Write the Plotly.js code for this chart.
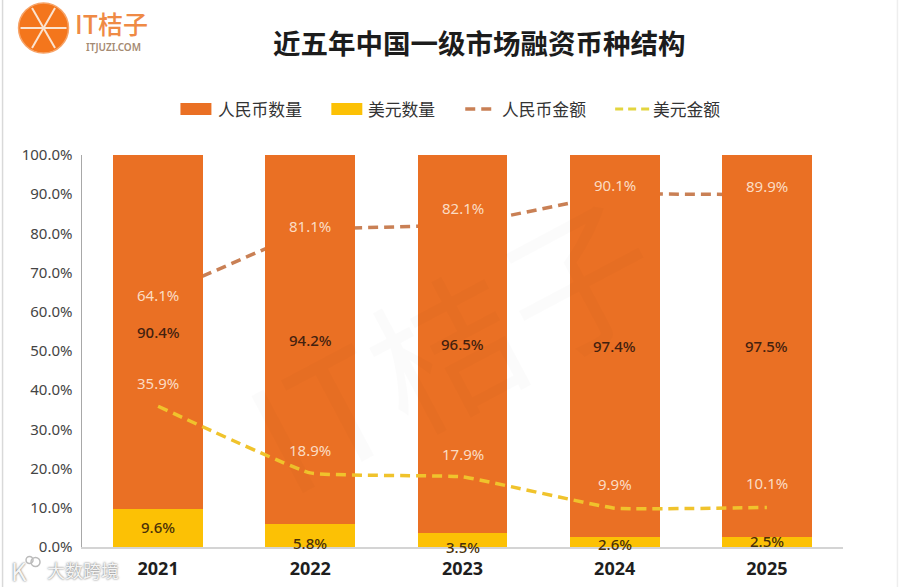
<!DOCTYPE html>
<html>
<head>
<meta charset="utf-8">
<script src="https://cdn.plot.ly/plotly-3.0.1.min.js"></script>
<style>
  html, body { margin: 0; padding: 0; background: #fff; }
</style>
</head>
<body>
<div id="chart" style="width:900px;height:587px"></div>
<script>
// Values
const years = ['2021', '2022', '2023', '2024', '2025'];
const rmbCount = [90.4, 94.2, 96.5, 97.4, 97.5];
const usdCount = [9.6, 5.8, 3.5, 2.6, 2.5];
const rmbAmount = [64.1, 81.1, 82.1, 90.1, 89.9];
const usdAmount = [35.9, 18.9, 17.9, 9.9, 10.1];
const yTicks = [0, 10, 20, 30, 40, 50, 60, 70, 80, 90, 100];

const seriesNames = ['人民币数量', '美元数量', '人民币金额', '美元金额'];
const titleText = '近五年中国一级市场融资币种结构';

// Label offsets in px from their anchor
const rmbAmountShift = [1, 3, 17, 9, 9];
const usdAmountShift = [23, 23, 23, 24, 24];
const usdCountShift = [1, -7, -7, -2, 1];

const ORANGE = '#ea7024', GOLD = '#fcc105', LINE_ORANGE = '#c98055', LINE_GOLD = '#f0c32c';
const FONT = '"Noto Sans CJK SC", "Noto Sans", sans-serif';
const LABEL_FONT = '"Noto Sans", "Open Sans", sans-serif';

// plot area in pixels
const L = 81.5, R = 843, T = 155, B = 547;
const px = x => (x - L) / (R - L);
const py = y => (B - y) / (B - T);

function pct(v) { return v.toFixed(1) + '%'; }

// rmbAmount sits under the bars, so it goes on the base axis; bars are on the overlay
const traces = [
  { type: 'scatter', mode: 'lines', name: seriesNames[2], x: years, y: rmbAmount, xaxis: 'x', yaxis: 'y',
    line: { color: LINE_ORANGE, width: 3.5, dash: '10px,6px' }, showlegend: false, hoverinfo: 'skip' },
  { type: 'bar', name: seriesNames[1], x: years, y: usdCount, xaxis: 'x', yaxis: 'y2',
    marker: { color: GOLD }, showlegend: false, hoverinfo: 'skip' },
  { type: 'bar', name: seriesNames[0], x: years, y: rmbCount, xaxis: 'x', yaxis: 'y2',
    marker: { color: ORANGE }, showlegend: false, hoverinfo: 'skip' },
  { type: 'scatter', mode: 'lines', name: seriesNames[3], x: years, y: usdAmount, xaxis: 'x', yaxis: 'y2',
    line: { color: LINE_GOLD, width: 3.5, dash: '10px,6px', shape: 'spline', smoothing: 0.3 },
    showlegend: false, hoverinfo: 'skip' }
];

const annotations = [];
function note(text, x, y, size, color, extra) {
  annotations.push(Object.assign({
    text: text, x: px(x), y: py(y), xref: 'paper', yref: 'paper', showarrow: false,
    xanchor: 'left', yanchor: 'middle', font: { family: FONT, size: size, color: color }
  }, extra || {}));
}
// numeric-looking category names get read as positions, so labels use the index
function dataLabel(i, y, value, shift, color, weight) {
  annotations.push({
    text: pct(value), x: i, y: y, xref: 'x', yref: 'y', yshift: shift, showarrow: false,
    font: { family: LABEL_FONT, size: 15, color: color, weight: weight }
  });
}
years.forEach((yr, i) => {
  dataLabel(i, usdCount[i] + rmbCount[i] / 2, rmbCount[i], 0, '#43210f', 500);
  dataLabel(i, usdCount[i] / 2, usdCount[i], usdCountShift[i], '#4a3008', 500);
  dataLabel(i, rmbAmount[i], rmbAmount[i], rmbAmountShift[i], '#fbdcc3', 400);
  dataLabel(i, usdAmount[i], usdAmount[i], usdAmountShift[i], '#fbdcc3', 400);
});

// title
note(titleText, 479.5, 42, 27.5, '#1c1c1c', { xanchor: 'center', font: { family: FONT, size: 27.5, color: '#1c1c1c', weight: 700 } });

// logo text
note('IT桔子', 72, 23, 25, '#ef8a45', { font: { family: FONT, size: 25, color: '#ef8a45', weight: 500 } });
note('ITJUZI.COM', 84, 47, 10, '#a58a72', { font: { family: LABEL_FONT, size: 10, color: '#a58a72', weight: 600 } });

// bottom-left stamp
note('大数跨境', 44, 570, 18, '#f4f4f4', { font: { family: FONT, size: 18, color: '#f4f4f4', shadow: '0 0 2px #555' } });
note('K', 8, 570, 24, '#f4f4f4', { font: { family: FONT, size: 24, color: '#f4f4f4', shadow: '0 0 2px #555' } });

// faint background watermark
note('IT桔子', 450, 340, 150, 'rgba(0,0,0,0.014)', {
  xanchor: 'center', textangle: -28, font: { family: FONT, size: 150, color: 'rgba(0,0,0,0.014)' }
});

// legend, drawn by hand because the swatches are wider than Plotly's bar swatches
const shapes = [];
function pxShape(type, x0, y0, x1, y1, style) {
  shapes.push(Object.assign({ type: type, xref: 'paper', yref: 'paper',
    x0: px(x0), y0: py(y0), x1: px(x1), y1: py(y1) }, style));
}
pxShape('rect', 180, 103, 211, 115, { fillcolor: ORANGE, line: { width: 0 } });
note(seriesNames[0], 215.5, 109, 16.8, '#333');
pxShape('rect', 331, 103, 362, 115, { fillcolor: GOLD, line: { width: 0 } });
note(seriesNames[1], 366, 109, 16.8, '#333');
pxShape('line', 465, 109, 494, 109, { line: { color: LINE_ORANGE, width: 3.5, dash: '10px,6px' } });
note(seriesNames[2], 500, 109, 16.8, '#333');
pxShape('line', 615, 109, 650, 109, { line: { color: '#e3d53f', width: 3, dash: '8px,5px' } });
note(seriesNames[3], 651, 109, 16.8, '#333');

// logo: slice of orange
const logoX = 43, logoY = 28, logoR = 25;
pxShape('circle', logoX - logoR, logoY - logoR, logoX + logoR, logoY + logoR, { fillcolor: '#f4761c', line: { color: '#f7a367', width: 1.5 } });
[[23, 0], [11.5, 20], [-11.5, 20]].forEach(d => {
  pxShape('line', logoX - d[0], logoY - d[1], logoX + d[0], logoY + d[1], { line: { color: '#fbe3cf', width: 2 } });
});

// stamp rings
[[35, 562, 4.5], [29, 560, 3.5]].forEach(c => {
  pxShape('circle', c[0] - c[2], c[1] - c[2], c[0] + c[2], c[1] + c[2], { fillcolor: 'rgba(0,0,0,0)', line: { color: '#bbb', width: 1.5 } });
});

// image edges
pxShape('line', 2, 0, 2, 587, { line: { color: '#d9d9d9', width: 1.5 } });
pxShape('line', 897.5, 0, 897.5, 587, { line: { color: '#eeeeee', width: 1.5 } });

const layout = {
  width: 900,
  height: 587,
  autosize: false,
  margin: { l: L, r: 900 - R, t: T, b: 587 - B, pad: 0 },
  paper_bgcolor: '#fff',
  plot_bgcolor: 'rgba(0,0,0,0)',
  showlegend: false,
  barmode: 'stack',
  bargap: 0.41,
  xaxis: {
    type: 'category',
    range: [-0.5, 4.5],
    showgrid: false,
    showline: true,
    linecolor: '#d4d4d4',
    linewidth: 1.5,
    ticks: '',
    ticklen: 0,
    ticklabelstandoff: 5,
    tickfont: { family: LABEL_FONT, size: 18, color: '#1e1e1e', weight: 700 }
  },
  yaxis: {
    range: [0, 100],
    tickvals: yTicks,
    ticktext: yTicks.map(pct),
    showgrid: false,
    zeroline: false,
    showline: true,
    linecolor: '#a8a8a8',
    linewidth: 1.5,
    ticks: '',
    ticklabelstandoff: 5,
    tickfont: { family: LABEL_FONT, size: 15, color: '#444' }
  },
  yaxis2: {
    range: [0, 100],
    overlaying: 'y',
    side: 'left',
    visible: false
  },
  annotations: annotations,
  shapes: shapes
};

Plotly.newPlot('chart', traces, layout, { displayModeBar: false, staticPlot: true });
</script>
</body>
</html>
